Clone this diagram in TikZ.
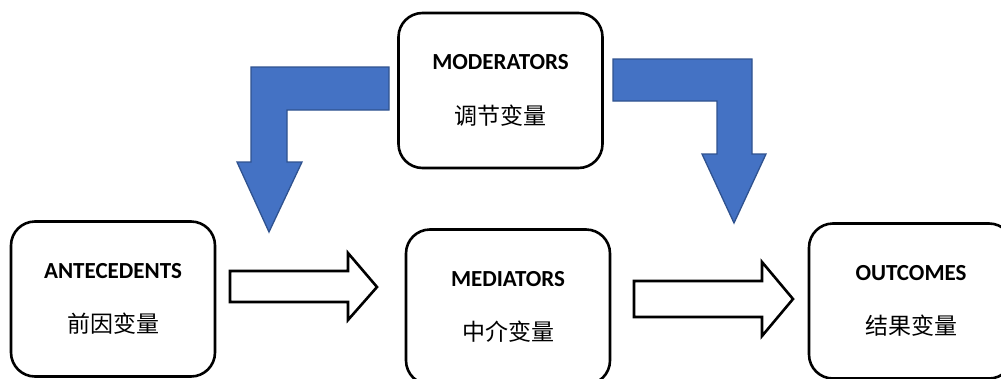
\documentclass[tikz,border=0pt]{standalone}
\usepackage{fontspec}
\setmainfont{Carlito}
\newfontfamily\cjk{Noto Sans CJK SC}
\definecolor{blockblue}{HTML}{4472C4}
\definecolor{blockedge}{HTML}{2F528F}
\begin{document}
\begin{tikzpicture}[x=1pt,y=-1pt,
  varbox/.style={draw=black, line width=2.6pt, rounded corners=24pt, fill=white,
    minimum width=204pt, minimum height=155pt, align=center, inner sep=0pt},
  hollowarrow/.style={draw=black, line width=2.6pt, fill=white, line join=miter},
  bluearrow/.style={draw=blockedge, line width=1.3pt, fill=blockblue, line join=miter}]
\useasboundingbox (0,0) rectangle (1001,378);
\clip (0,0) rectangle (1001,378);
\newcommand{\boxtext}[2]{{\fontsize{23}{27}\selectfont\bfseries #1}\\[34pt]{\cjk\fontsize{23}{26}\selectfont #2}}
\node[varbox] (mod) at (500.5,90.5) {\boxtext{MODERATORS}{调节变量}};
\node[varbox] (ant) at (113,299) {\boxtext{ANTECEDENTS}{前因变量}};
\node[varbox] (med) at (508,307) {\boxtext{MEDIATORS}{中介变量}};
\node[varbox] (out) at (911,301) {\boxtext{OUTCOMES}{结果变量}};
% hollow arrows
\draw[hollowarrow] (230,271) -- (348,271) -- (348,253) -- (377,287) -- (348,320) -- (348,302) -- (230,302) -- cycle;
\draw[hollowarrow] (634,281) -- (762,281) -- (762,262) -- (793,299) -- (762,336) -- (762,317) -- (634,317) -- cycle;
% blue bent arrows
\draw[bluearrow] (389,67) -- (251,67) -- (251,162) -- (237,162) -- (269,232) -- (302,162) -- (287,162) -- (287,110) -- (389,110) -- cycle;
\draw[bluearrow] (613,59) -- (752,59) -- (752,154) -- (766,154) -- (734,223) -- (702,154) -- (717,154) -- (717,101) -- (613,101) -- cycle;
\end{tikzpicture}
\end{document}
